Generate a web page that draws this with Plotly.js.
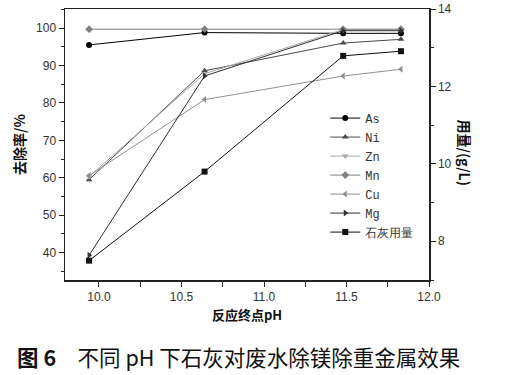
<!DOCTYPE html>
<html><head><meta charset="utf-8">
<script src="https://cdn.plot.ly/plotly-3.0.1.min.js"></script>
<style>html,body{margin:0;padding:0;background:#fff}</style>
</head><body>
<div id="chart" style="width:507px;height:375px"></div>
<script>
const ph = [9.94, 10.64, 11.48, 11.83];
const asVals = [95.5, 98.8, 98.6, 98.6];
const niVals = [59.5, 88.6, 96.0, 97.0];
const znVals = [60.3, 87.8, 99.6, 99.6];
const mnVals = [99.7, 99.7, 99.7, 99.7];
const cuVals = [60.6, 80.9, 87.2, 89.0];
const mgVals = [39.3, 87.2, 99.3, 99.3];
const limeDose = [7.5, 9.8, 12.79, 12.91];
const seriesNames = ['As', 'Ni', 'Zn', 'Mn', 'Cu', 'Mg', '石灰用量'];

function tr(name, y, color, symbol, axis) {
  return {x: ph, y: y, name: name, type: 'scatter', mode: 'lines+markers',
    yaxis: axis || 'y',
    line: {color: color, width: 1},
    marker: {symbol: symbol, size: 6, color: color}};
}
const data = [
  tr(seriesNames[0], asVals, '#000000', 'circle'),
  tr(seriesNames[1], niVals, '#4a4a4a', 'triangle-up'),
  tr(seriesNames[2], znVals, '#a8a8a8', 'triangle-down'),
  tr(seriesNames[3], mnVals, '#808080', 'diamond'),
  tr(seriesNames[4], cuVals, '#909090', 'triangle-left'),
  tr(seriesNames[5], mgVals, '#303030', 'triangle-right'),
  tr(seriesNames[6], limeDose, '#111111', 'square', 'y2')
];
const tickFont = {family: 'Liberation Sans, Arial, sans-serif', size: 12, color: '#333'};
const layout = {
  width: 507, height: 375,
  margin: {l: 65, r: 78, t: 9, b: 95},
  paper_bgcolor: '#fff', plot_bgcolor: '#fff',
  showlegend: true,
  legend: {x: 0.715, y: 0.651, xanchor: 'left', yanchor: 'top',
    font: {family: 'Liberation Mono, monospace', size: 12, color: '#333'},
    bgcolor: 'rgba(0,0,0,0)', tracegroupgap: 0, itemwidth: 30},
  xaxis: {range: [9.794, 12.0], dtick: 0.5, tick0: 10, tickformat: '.1f',
    showgrid: false, zeroline: false, showline: true, linecolor: '#222', linewidth: 1.5,
    mirror: true, ticks: 'outside', ticklen: 5, tickcolor: '#222',
    minor: {dtick: 0.25, tick0: 10, ticks: 'outside', ticklen: 5, tickcolor: '#222'},
    tickfont: tickFont,
    title: {text: '反应终点pH', standoff: 8,
      font: {family: 'Noto Sans CJK SC', size: 13, color: '#111', weight: 'bold'}}},
  xaxis2: {overlaying: 'x', matches: 'x', side: 'top', anchor: 'y',
    range: [9.794, 12.0], dtick: 0.5, tick0: 10, showticklabels: false,
    showgrid: false, zeroline: false, showline: false,
    ticks: 'inside', ticklen: 5, tickcolor: '#222',
    minor: {dtick: 0.25, tick0: 10, ticks: 'inside', ticklen: 5, tickcolor: '#222'}},
  yaxis: {range: [32.7, 105.1], dtick: 10, tick0: 0,
    showgrid: false, zeroline: false, showline: true, linecolor: '#222', linewidth: 1.5,
    ticks: 'outside', ticklen: 5, tickcolor: '#222',
    minor: {dtick: 5, tick0: 0, ticks: 'outside', ticklen: 3, tickcolor: '#222'},
    tickfont: tickFont,
    title: {text: '去除率/%', standoff: 7,
      font: {family: 'Noto Sans CJK SC', size: 14, color: '#111', weight: 'bold'}}},
  yaxis2: {overlaying: 'y', side: 'right', range: [7.0, 14.0], dtick: 2, tick0: 0,
    showgrid: false, zeroline: false, showline: true, linecolor: '#222', linewidth: 1.5,
    ticks: 'outside', ticklen: 5, tickcolor: '#222',
    minor: {dtick: 1, tick0: 0, ticks: 'outside', ticklen: 3, tickcolor: '#222'},
    tickfont: tickFont},
  annotations: [
    {text: '用量/(g/L)', xref: 'paper', yref: 'paper', x: 1.099, y: 0.47,
     textangle: 90, showarrow: false, xanchor: 'center', yanchor: 'middle',
     font: {family: 'Noto Sans CJK SC', size: 14, color: '#111', weight: 'bold'}},
    {text: '<b>图 6</b>　不同 pH 下石灰对废水除镁除重金属效果', xref: 'paper', yref: 'paper',
     x: -0.137, y: -0.284, xanchor: 'left', yanchor: 'middle', showarrow: false,
     font: {family: 'Noto Sans CJK SC', size: 21.5, color: '#111'}}
  ]
};
Plotly.newPlot('chart', data, layout, {displayModeBar: false, staticPlot: true});
</script>
</body></html>
